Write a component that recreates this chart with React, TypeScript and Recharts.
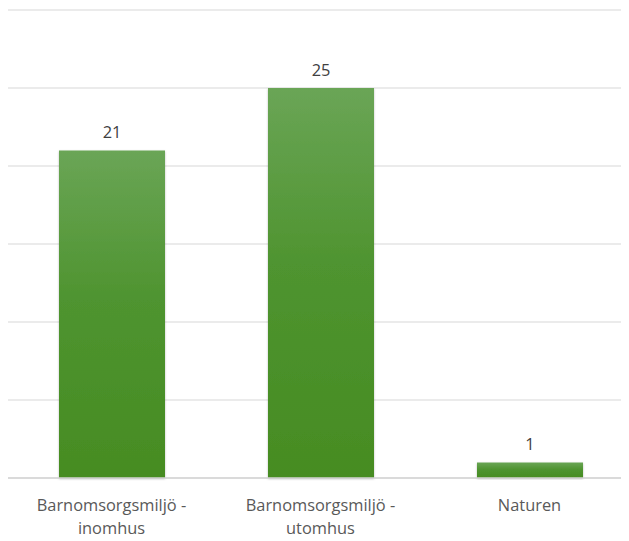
import { BarChart, Bar, XAxis, YAxis, CartesianGrid, LabelList } from 'recharts'

const categories = ['Barnomsorgsmiljö - inomhus', 'Barnomsorgsmiljö - utomhus', 'Naturen']
const counts = [21, 25, 1]
const yTicks = [0, 5, 10, 15, 20, 25, 30]

const data = categories.map((name, i) => ({ name, count: counts[i] }))

const FONT = '"Open Sans", sans-serif'

function WrappedTick({ x, y, payload }: any) {
  const value: string = payload.value
  const parts = value.includes(' - ') ? [value.split(' - ')[0] + ' -', value.split(' - ')[1]] : [value]
  return (
    <text x={x} y={y} textAnchor="middle" fill="#595959" fontSize={16.4} fontFamily={FONT}>
      {parts.map((p, i) => (
        <tspan key={i} x={x} dy={i === 0 ? 25 : 23}>
          {p}
        </tspan>
      ))}
    </text>
  )
}

export default function App() {
  return (
    <div style={{ width: 627, height: 533, marginLeft: -1 }}>
      <BarChart
        width={627}
        height={533}
        data={data}
        margin={{ top: 2, right: 0, bottom: 0, left: 0 }}
        barCategoryGap={0}
      >
        <defs>
          <linearGradient id="barGrad" x1="0" y1="0" x2="0" y2="1">
            <stop offset="0%" stopColor="#6aa556" />
            <stop offset="45%" stopColor="#4f9430" />
            <stop offset="100%" stopColor="#468c22" />
          </linearGradient>
          <filter id="barShadow" x="-10%" y="-10%" width="120%" height="120%">
            <feDropShadow dx="0" dy="1" stdDeviation="1" floodColor="#000" floodOpacity="0.25" />
          </filter>
        </defs>
        <CartesianGrid vertical={false} stroke="#e4e4e4" strokeWidth={1.5} />
        <YAxis hide domain={[0, 30]} ticks={yTicks} width={0} />
        <XAxis
          dataKey="name"
          axisLine={{ stroke: '#d4d4d4', strokeWidth: 1.5 }}
          tickLine={false}
          interval={0}
          height={63}
          tick={<WrappedTick />}
        />
        <Bar dataKey="count" barSize={106} fill="url(#barGrad)" filter="url(#barShadow)" isAnimationActive={false}>
          <LabelList
            dataKey="count"
            position="top"
            offset={12}
            fill="#404040"
            fontSize={16.4}
            fontFamily={FONT}
          />
        </Bar>
      </BarChart>
    </div>
  )
}
